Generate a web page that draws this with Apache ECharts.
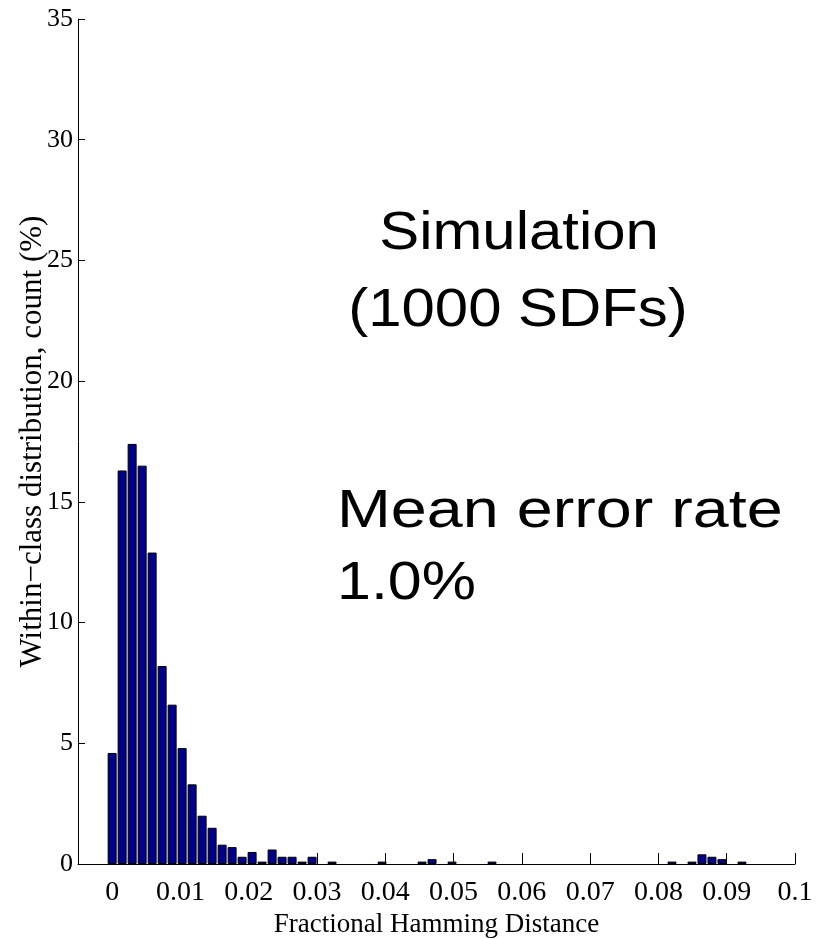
<!DOCTYPE html>
<html>
<head>
<meta charset="utf-8">
<script src="https://cdn.jsdelivr.net/npm/echarts@6/dist/echarts.min.js"></script>
<style>html,body{margin:0;padding:0;background:#fff}#c{width:819px;height:939px}</style>
</head>
<body>
<div id="c"></div>
<script>
// Histogram bin width (fractional Hamming distance per bin)
var BIN_WIDTH = 0.001464;
// Within-class distribution, percentage per bin (bin index -> count %)
var binCounts = [
  4.6, 16.3, 17.4, 16.5, 12.9, 8.2, 6.6, 4.8, 3.3, 2.0,
  1.5, 0.8, 0.7, 0.3, 0.5, 0.1, 0.6, 0.3, 0.3, 0.1,
  0.3, 0, 0.1, 0, 0, 0, 0, 0.1, 0, 0,
  0, 0.1, 0.2, 0, 0.1, 0, 0, 0, 0.1, 0,
  0, 0, 0, 0, 0, 0, 0, 0, 0, 0,
  0, 0, 0, 0, 0, 0, 0.1, 0, 0.1, 0.4,
  0.3, 0.2, 0, 0.1
];
var xTickValues = [0, 0.01, 0.02, 0.03, 0.04, 0.05, 0.06, 0.07, 0.08, 0.09, 0.1];
var xTickLabels = ['0', '0.01', '0.02', '0.03', '0.04', '0.05', '0.06', '0.07', '0.08', '0.09', '0.1'];
var yTickLabels = ['0', '5', '10', '15', '20', '25', '30', '35'];
var annotationTop = ['Simulation', '(1000 SDFs)'];
var annotationBottom = ['Mean error rate', '1.0%'];

// empty bins are not drawn
var barData = binCounts.map(function (v, i) { return [i * BIN_WIDTH, v === 0 ? null : v]; });

var chart = echarts.init(document.getElementById('c'));
var serif = '"Liberation Serif", "Times New Roman", serif';
var sans = '"Liberation Sans", Arial, sans-serif';

chart.setOption({
  animation: false,
  backgroundColor: '#ffffff',
  grid: { left: 78, right: 24, top: 19, bottom: 75, containLabel: false, outerBoundsMode: 'none' },
  xAxis: {
    type: 'value',
    min: -0.005,
    max: 0.1,
    name: 'Fractional Hamming Distance',
    nameLocation: 'middle',
    nameGap: 47,
    nameMoveOverlap: false,
    nameTextStyle: { fontFamily: serif, fontSize: 27, color: '#000' },
    axisLine: { show: true, onZero: false, lineStyle: { color: '#000', width: 1 } },
    axisTick: { show: true, inside: true, length: 11, customValues: xTickValues, lineStyle: { color: '#000' } },
    axisLabel: {
      customValues: xTickValues,
      margin: 15,
      fontFamily: serif, fontSize: 28, color: '#000',
      formatter: function (v) {
        var idx = xTickValues.findIndex(function (t) { return Math.abs(t - v) < 1e-9; });
        return idx >= 0 ? xTickLabels[idx] : '';
      }
    },
    splitLine: { show: false }
  },
  yAxis: {
    type: 'value',
    min: 0,
    max: 35,
    interval: 5,
    name: 'Within\u2212class distribution, count (%)',
    nameLocation: 'middle',
    nameGap: 30,
    nameMoveOverlap: false,
    nameRotate: 90,
    nameTextStyle: { fontFamily: serif, fontSize: 31, color: '#000' },
    axisLine: { show: true, onZero: false, lineStyle: { color: '#000', width: 1 } },
    axisTick: { show: true, inside: true, length: 7, lineStyle: { color: '#000' } },
    axisLabel: {
      margin: 5,
      fontFamily: serif, fontSize: 26, color: '#000',
      formatter: function (v) { return yTickLabels[Math.round(v / 5)]; }
    },
    splitLine: { show: false }
  },
  series: [{
    type: 'bar',
    data: barData,
    barWidth: 9,
    itemStyle: { color: '#00008c', borderColor: '#000000', borderWidth: 1 }
  }],
  graphic: [
    { type: 'text', x: 519, y: 261, scaleX: 1.13,
      style: { text: annotationTop[0], fontFamily: sans, fontSize: 53, fill: '#000', textAlign: 'center', textVerticalAlign: 'bottom' } },
    { type: 'text', x: 518, y: 338, scaleX: 1.13,
      style: { text: annotationTop[1], fontFamily: sans, fontSize: 53, fill: '#000', textAlign: 'center', textVerticalAlign: 'bottom' } },
    { type: 'text', x: 337, y: 539, scaleX: 1.22,
      style: { text: annotationBottom[0], fontFamily: sans, fontSize: 53, fill: '#000', textAlign: 'left', textVerticalAlign: 'bottom' } },
    { type: 'text', x: 337, y: 611, scaleX: 1.15,
      style: { text: annotationBottom[1], fontFamily: sans, fontSize: 53, fill: '#000', textAlign: 'left', textVerticalAlign: 'bottom' } }
  ]
});
</script>
</body>
</html>
